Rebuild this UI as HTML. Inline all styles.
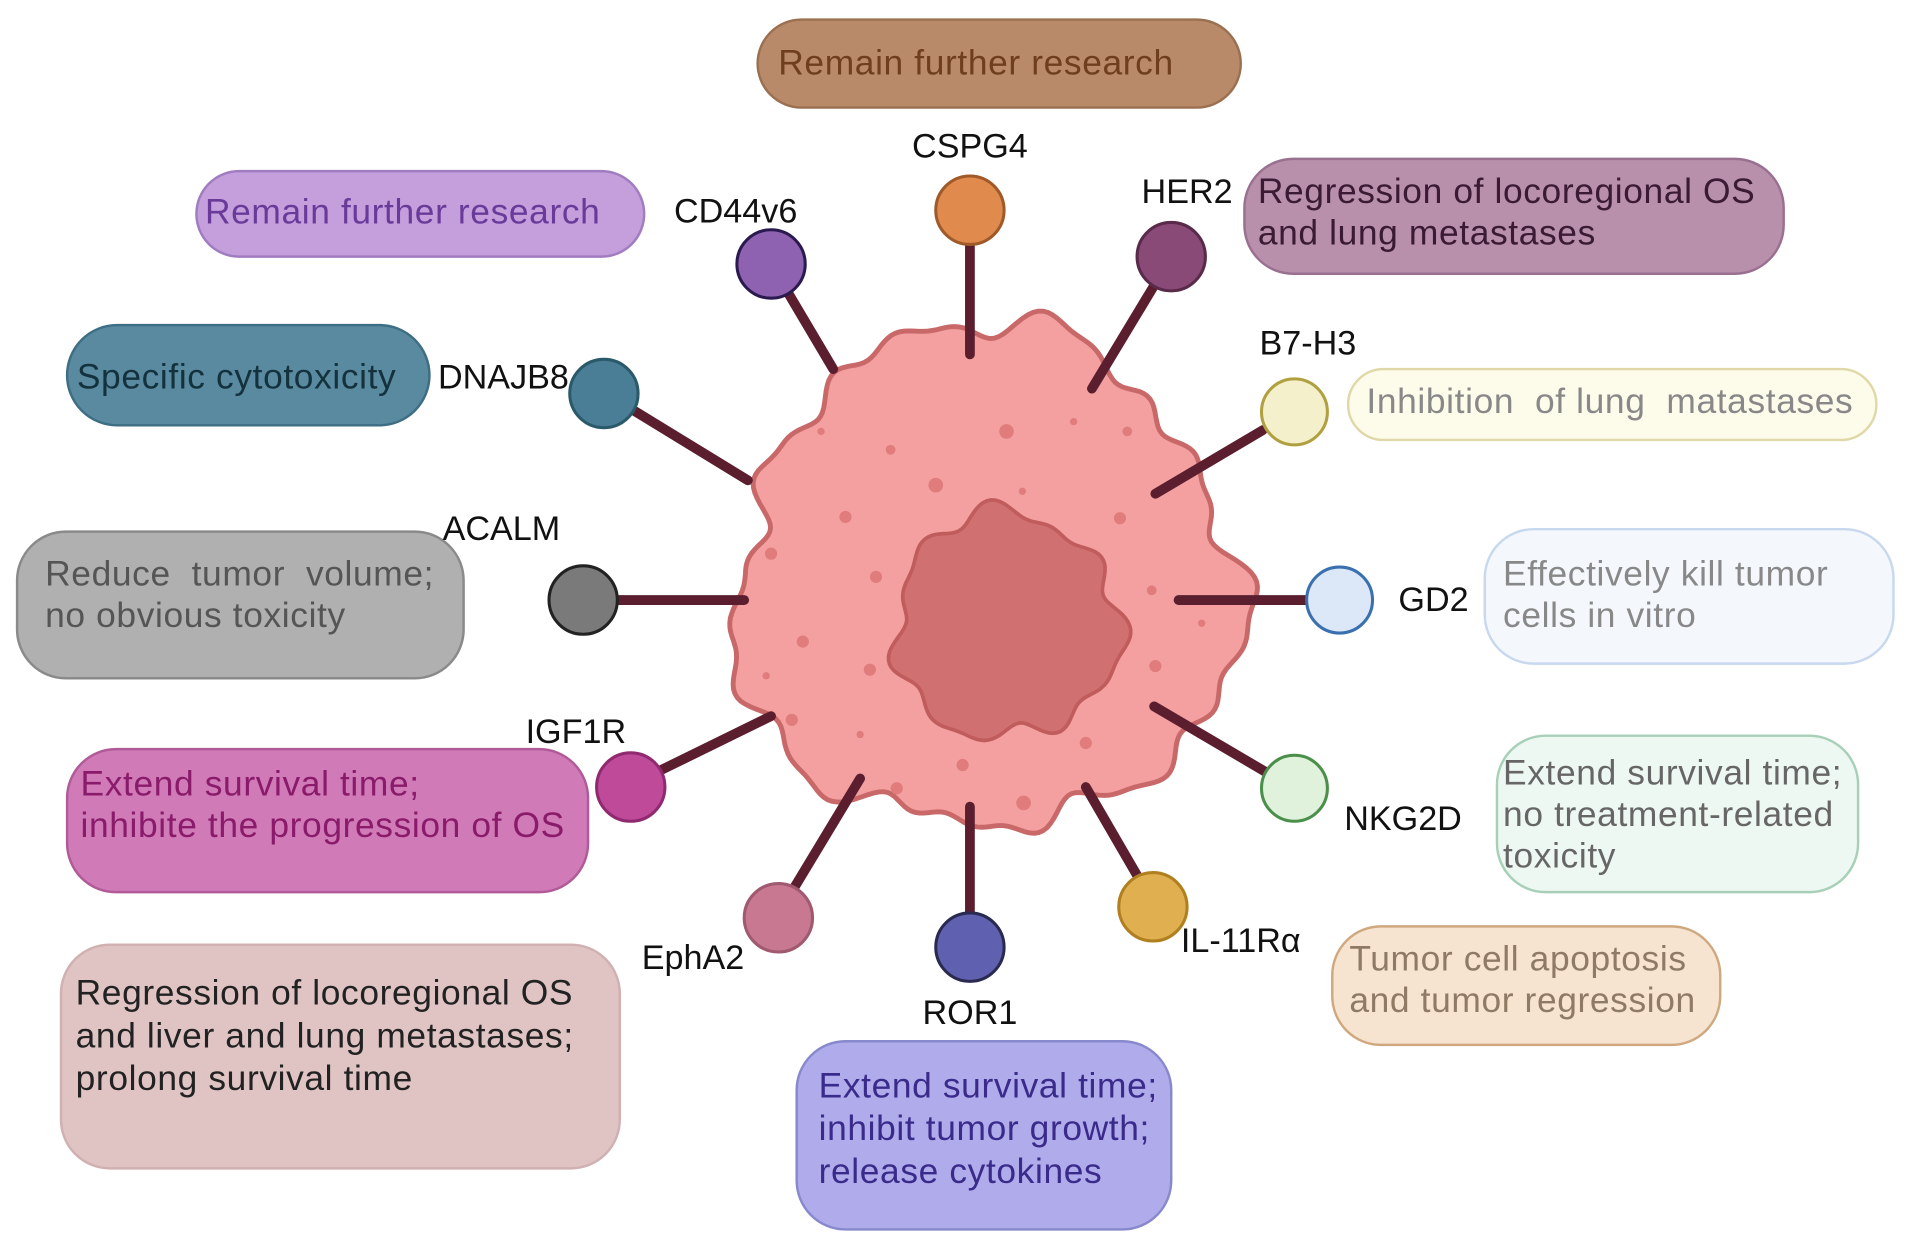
<!DOCTYPE html>
<html><head><meta charset="utf-8"><style>
html,body{margin:0;padding:0;background:#fff;}
svg{display:block;}
text{font-family:"Liberation Sans",sans-serif;}
#boxes text{font-size:29px;letter-spacing:0.5px;}
</style></head><body>
<svg id="s" width="1913" height="1249" viewBox="0 0 1568 1022" preserveAspectRatio="none" xmlns="http://www.w3.org/2000/svg">
<g id="boxes">
<rect x="621" y="16" width="396" height="72" rx="36" fill="#b98a6a" stroke="#9a7050" stroke-width="2"/>
<text x="800" y="61" fill="#6e3e1e" text-anchor="middle">Remain further research</text>
<rect x="161" y="140" width="367" height="70" rx="35" fill="#c49fdc" stroke="#a07cc0" stroke-width="2"/>
<text x="168" y="183" fill="#6a3a9a">Remain further research</text>
<rect x="1020" y="130" width="442" height="94" rx="40" fill="#b890ab" stroke="#9a7090" stroke-width="2"/>
<text x="1031" y="166" fill="#3a1a34">Regression of locoregional OS</text>
<text x="1031" y="200" fill="#3a1a34">and lung metastases</text>
<rect x="55" y="266" width="297" height="82" rx="41" fill="#5a8aa0" stroke="#3e6e84" stroke-width="2"/>
<text x="63" y="318" fill="#14323e">Specific cytotoxicity</text>
<rect x="1105" y="302" width="433" height="58" rx="29" fill="#fdfbea" stroke="#e0d8a8" stroke-width="2"/>
<text x="1120" y="338" fill="#888" xml:space="preserve">Inhibition  of lung  matastases</text>
<rect x="14" y="435" width="366" height="120" rx="40" fill="#b0b0b0" stroke="#8a8a8a" stroke-width="2"/>
<text x="37" y="479" fill="#555" xml:space="preserve">Reduce  tumor  volume;</text>
<text x="37" y="513" fill="#555">no obvious toxicity</text>
<rect x="1217" y="433" width="335" height="110" rx="40" fill="#f4f8fd" stroke="#c8d8ee" stroke-width="2"/>
<text x="1232" y="479" fill="#888">Effectively kill tumor</text>
<text x="1232" y="513" fill="#888">cells in vitro</text>
<rect x="55" y="613" width="427" height="117" rx="40" fill="#d07ab8" stroke="#b05a98" stroke-width="2"/>
<text x="66" y="651" fill="#8a1a6a">Extend survival time;</text>
<text x="66" y="685" fill="#8a1a6a">inhibite the progression of OS</text>
<rect x="1227" y="602" width="296" height="128" rx="40" fill="#eef8f2" stroke="#a8d0b8" stroke-width="2"/>
<text x="1232" y="642" fill="#666">Extend survival time;</text>
<text x="1232" y="676" fill="#666">no treatment-related</text>
<text x="1232" y="710" fill="#666">toxicity</text>
<rect x="1092" y="758" width="318" height="97" rx="40" fill="#f6e4d0" stroke="#d0a880" stroke-width="2"/>
<text x="1106" y="794" fill="#8f7a66">Tumor cell apoptosis</text>
<text x="1106" y="828" fill="#8f7a66">and tumor regression</text>
<rect x="50" y="773" width="458" height="183" rx="40" fill="#e0c4c4" stroke="#d0b0b0" stroke-width="2"/>
<text x="62" y="822" fill="#222">Regression of locoregional OS</text>
<text x="62" y="857" fill="#222">and liver and lung metastases;</text>
<text x="62" y="892" fill="#222">prolong survival time</text>
<rect x="653" y="852" width="307" height="154" rx="40" fill="#b0acec" stroke="#8888cc" stroke-width="2"/>
<text x="671" y="898" fill="#3a2a8a">Extend survival time;</text>
<text x="671" y="933" fill="#3a2a8a">inhibit tumor growth;</text>
<text x="671" y="968" fill="#3a2a8a">release cytokines</text>
</g>
<path id="cell" fill="#f4a0a0" stroke="#c86868" stroke-width="4"/>
<path id="nuc" fill="#d07070" stroke="#c05c5c" stroke-width="3"/>
<g fill="#e07c7c">
<circle cx="825" cy="353" r="6"/><circle cx="767" cy="397" r="6"/><circle cx="730" cy="368" r="4"/><circle cx="693" cy="423" r="5"/><circle cx="632" cy="453" r="5"/><circle cx="718" cy="472" r="5"/><circle cx="658" cy="525" r="5"/><circle cx="713" cy="548" r="5"/><circle cx="628" cy="553" r="3"/><circle cx="649" cy="589" r="5"/><circle cx="705" cy="601" r="3"/><circle cx="735" cy="645" r="5"/><circle cx="789" cy="626" r="5"/><circle cx="839" cy="657" r="6"/><circle cx="890" cy="608" r="5"/><circle cx="947" cy="545" r="5"/><circle cx="944" cy="483" r="4"/><circle cx="918" cy="424" r="5"/><circle cx="924" cy="353" r="4"/><circle cx="880" cy="345" r="3"/><circle cx="838" cy="402" r="3"/><circle cx="673" cy="353" r="3"/><circle cx="985" cy="510" r="3"/>
</g>
<g stroke="#5a1e2e" stroke-width="8" stroke-linecap="round">
<line x1="795" y1="198" x2="795" y2="290"/>
<line x1="645" y1="238" x2="683" y2="302"/>
<line x1="947" y1="232" x2="895" y2="318"/>
<line x1="518" y1="335" x2="613" y2="393"/>
<line x1="1035" y1="352" x2="947" y2="404"/>
<line x1="505" y1="491" x2="610" y2="491"/>
<line x1="1070" y1="491" x2="966" y2="491"/>
<line x1="540" y1="631" x2="632" y2="586"/>
<line x1="1038" y1="632" x2="946" y2="578"/>
<line x1="650" y1="728" x2="705" y2="637"/>
<line x1="795" y1="748" x2="795" y2="660"/>
<line x1="933" y1="718" x2="890" y2="644"/>
</g>
<g stroke-width="2.5">
<circle cx="795" cy="172" r="28" fill="#e08a4e" stroke="#a05a2a"/>
<circle cx="632" cy="216" r="28" fill="#8e62b0" stroke="#2a1a50"/>
<circle cx="960" cy="210" r="28" fill="#8a4a78" stroke="#5a2a4a"/>
<circle cx="495" cy="322" r="28" fill="#4a7e96" stroke="#2a5a6a"/>
<circle cx="1061" cy="337" r="27" fill="#f5f0cc" stroke="#b0a040"/>
<circle cx="478" cy="491" r="28" fill="#7a7a7a" stroke="#222"/>
<circle cx="1098" cy="491" r="27" fill="#dce8f8" stroke="#3a70b0"/>
<circle cx="517" cy="644" r="28" fill="#c04a9a" stroke="#902a70"/>
<circle cx="1061" cy="645" r="27" fill="#e0f2dc" stroke="#4a904a"/>
<circle cx="638" cy="751" r="28" fill="#c87890" stroke="#a05a70"/>
<circle cx="795" cy="775" r="28" fill="#6060b0" stroke="#2a2a50"/>
<circle cx="945" cy="742" r="28" fill="#e0b050" stroke="#b08020"/>
</g>
<g font-size="28" fill="#111">
<text x="795" y="129" text-anchor="middle">CSPG4</text>
<text x="603" y="182" text-anchor="middle">CD44v6</text>
<text x="973" y="166" text-anchor="middle">HER2</text>
<text x="359" y="318">DNAJB8</text>
<text x="1072" y="290" text-anchor="middle">B7-H3</text>
<text x="411" y="442" text-anchor="middle">ACALM</text>
<text x="1175" y="500" text-anchor="middle">GD2</text>
<text x="472" y="608" text-anchor="middle">IGF1R</text>
<text x="1150" y="679" text-anchor="middle">NKG2D</text>
<text x="568" y="793" text-anchor="middle">EphA2</text>
<text x="795" y="838" text-anchor="middle">ROR1</text>
<text x="1017" y="779" text-anchor="middle">IL-11Rα</text>
</g>
</svg>
<script>
function blob(cx,cy,r,amps,n){var d="";for(var i=0;i<=n;i++){var t=i/n*2*Math.PI;var rr=r;for(var k=0;k<amps.length;k++){rr+=amps[k][0]*Math.sin(amps[k][1]*t+amps[k][2]);}var x=cx+rr*Math.cos(t),y=cy+rr*Math.sin(t);d+=(i?"L":"M")+x.toFixed(1)+" "+y.toFixed(1);}return d+"Z";}
document.getElementById("cell").setAttribute("d",blob(808,476,205,[[7,9,0.5],[5,14,1.3],[4,23,2.1],[10,3,0.2],[4,5,1.0]],360));
document.getElementById("nuc").setAttribute("d",blob(825,512,92,[[5,7,0.4],[4,11,1.7],[4,3,0.9]],200));
</script>
</body></html>
